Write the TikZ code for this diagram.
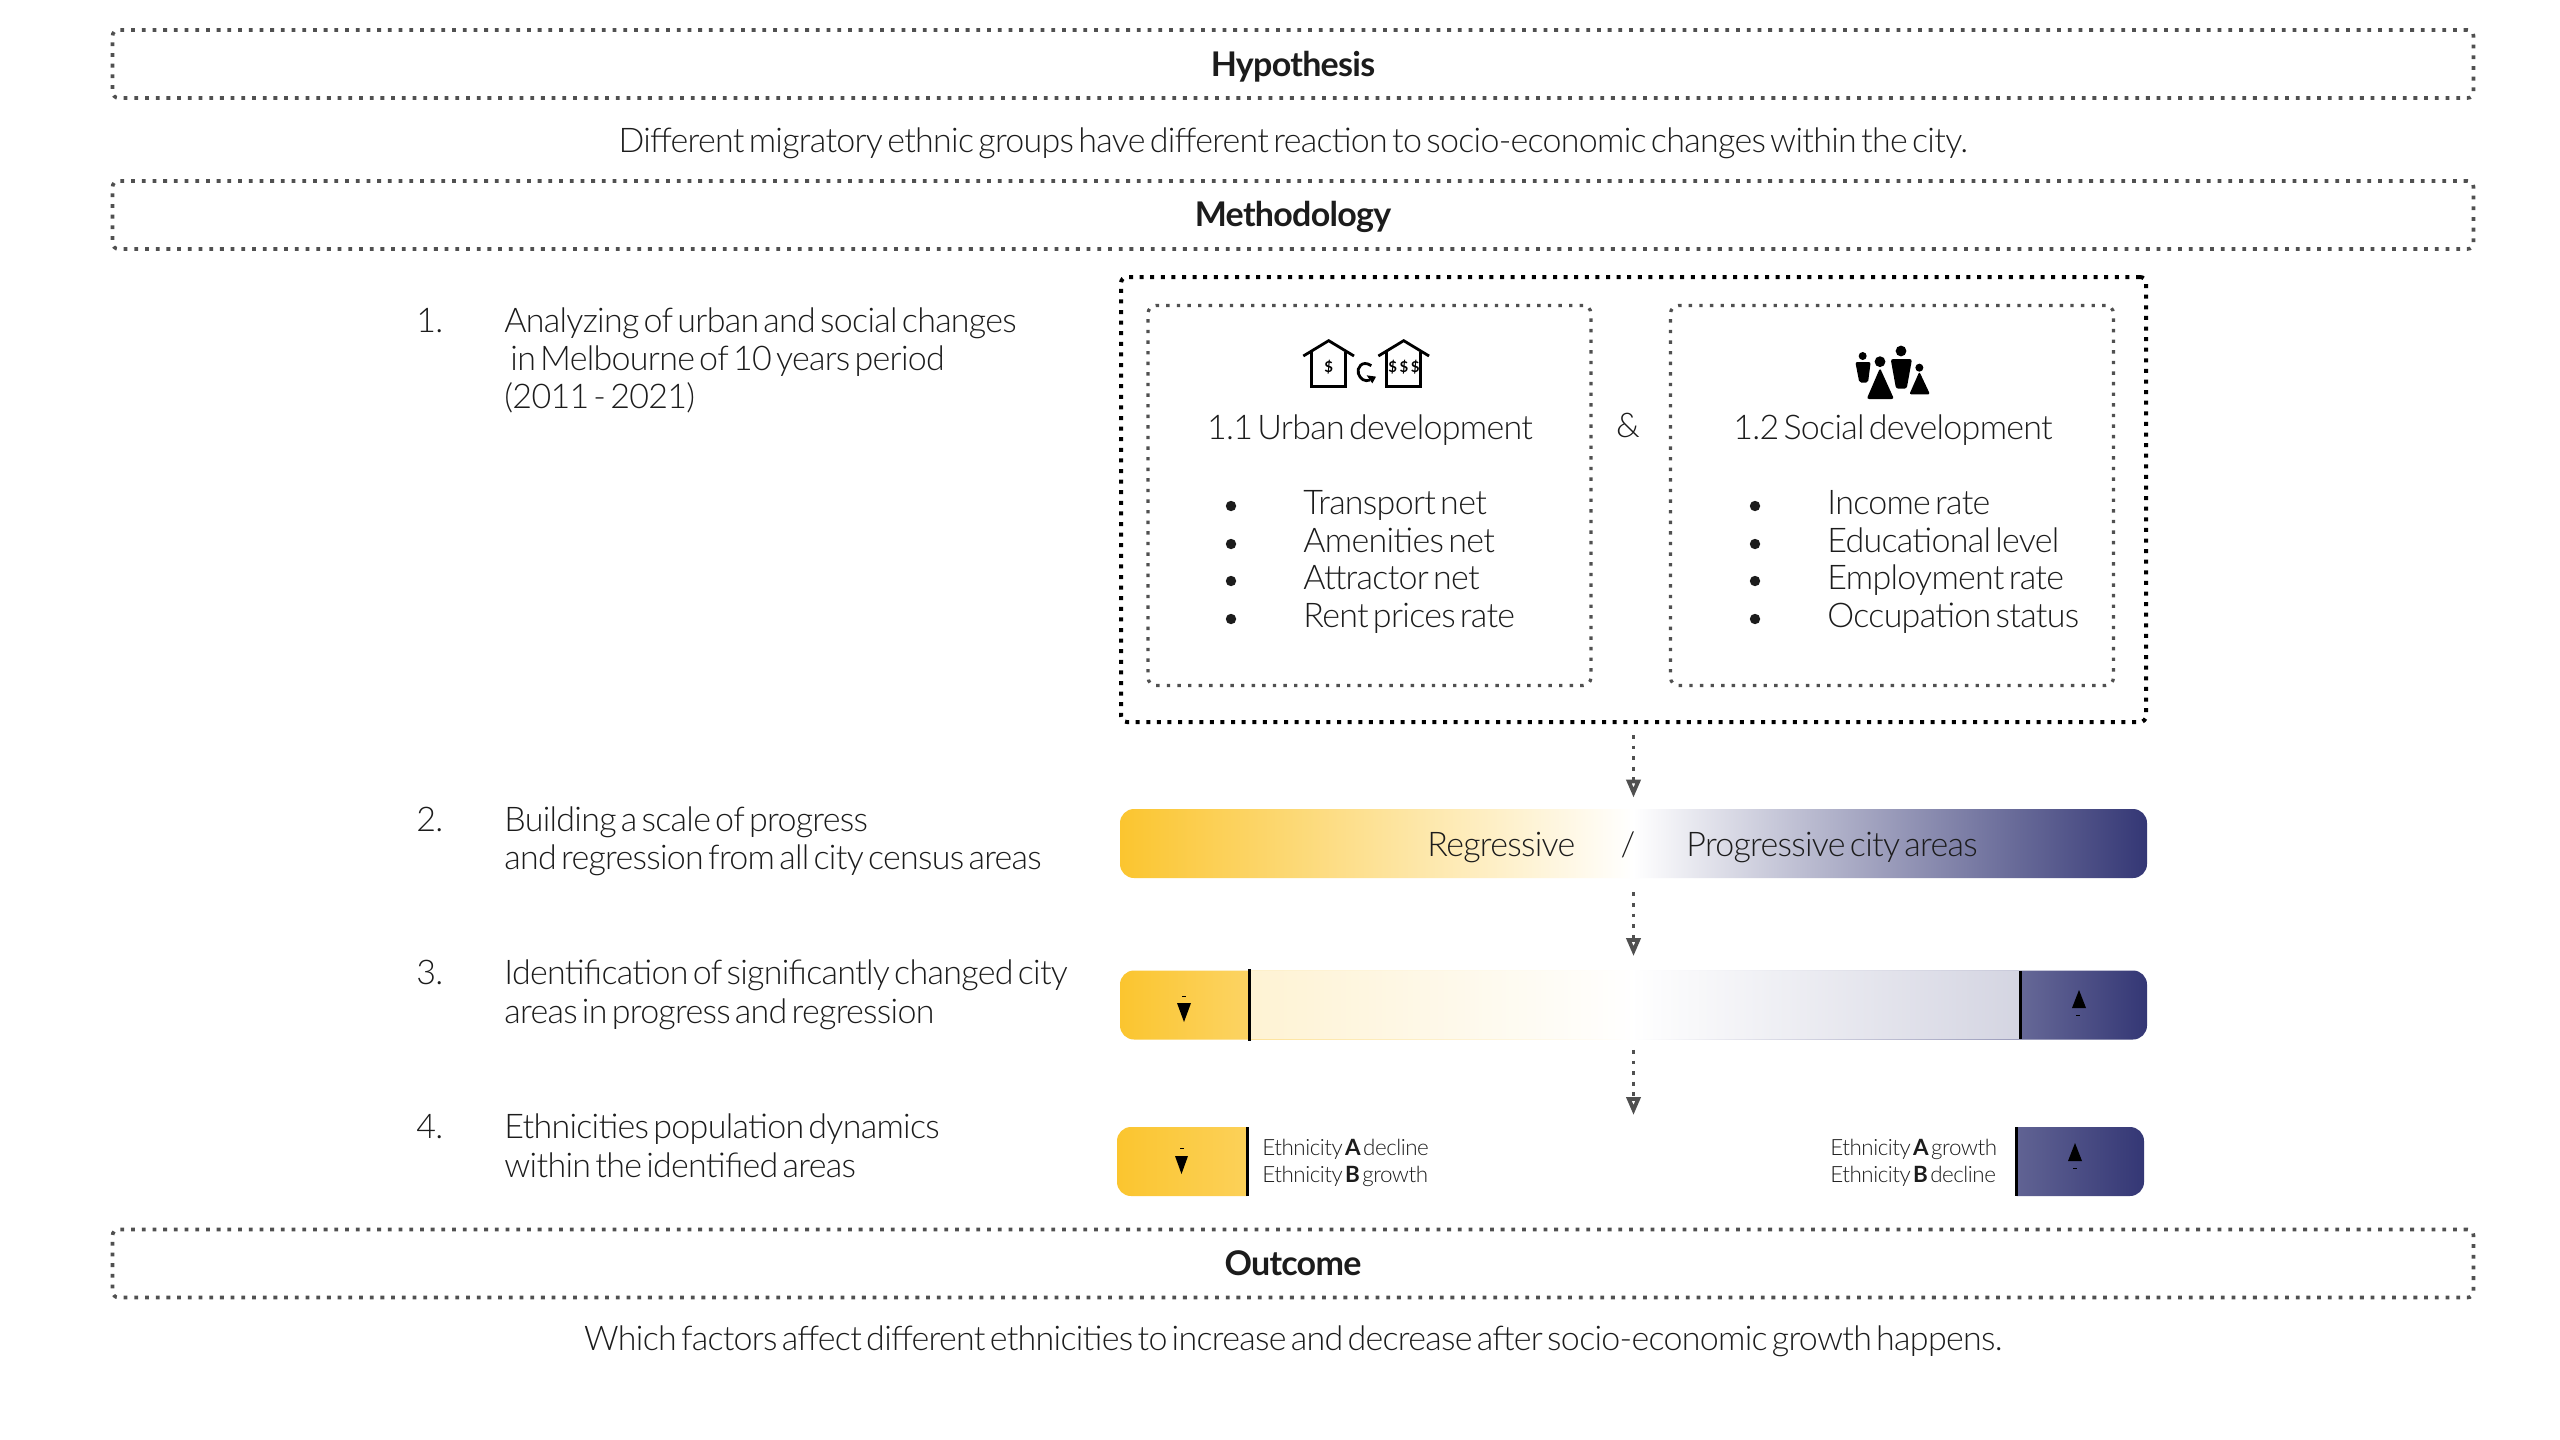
\documentclass[tikz,border=0pt]{standalone}
\usepackage{fontspec}
\setmainfont{Lato}[UprightFont=* Light,BoldFont=* Bold,LetterSpace=-2.1,WordSpace=0.5]
\usetikzlibrary{arrows.meta}
\definecolor{ink}{HTML}{1C1C1C}
\definecolor{dotgrey}{HTML}{505050}
\definecolor{sun}{HTML}{FBC52F}
\definecolor{navy}{HTML}{343775}
\tikzset{
  x=0.5pt,y=-0.5pt,
  headbox/.style={draw=dotgrey,line width=1.8pt,dash pattern=on 1.9pt off 3.45pt,rounded corners=3pt,inner sep=0,minimum width=1180.5pt,minimum height=34pt},
  outerbox/.style={draw=black,line width=2pt,dash pattern=on 2pt off 3.3pt,rounded corners=3pt,inner sep=0,minimum width=512.5pt,minimum height=222.5pt},
  innerbox/.style={draw=dotgrey,line width=1.6pt,dash pattern=on 1.7pt off 3.6pt,rounded corners=4pt,inner sep=0,minimum width=221.5pt,minimum height=190pt},
  gradbar/.style={inner sep=0,minimum width=513.5pt,minimum height=34.5pt,rounded corners=7pt,left color=sun,right color=navy,middle color=white},
  flow/.style={draw=dotgrey,line width=1.8pt,dash pattern=on 1.9pt off 3.4pt,-{Triangle[open,length=9pt,width=7pt,line width=1.9pt]}},
  big/.style={inner sep=0,text=ink,font=\fontsize{17}{17}\selectfont},
  bigl/.style={big,anchor=base west},
  bigc/.style={big,anchor=base},
  head/.style={inner sep=0,anchor=base,text=ink,font=\fontsize{17}{17}\selectfont\bfseries},
  small/.style={inner sep=0,anchor=base west,text=ink,font=\fontsize{11.2}{12}\selectfont},
  tinymark/.style={fill=black,inner sep=0,minimum width=1.6pt,minimum height=0.5pt},
}
\begin{document}
\begin{tikzpicture}
\useasboundingbox[fill=white] (0,0) rectangle (2560,1440);

% header boxes
\node[headbox] (hyp) at (1293,64) {};
\node[head] (hyptext) at (1293,76) {Hypothesis};
\node[bigc] (hypbody) at (1293,152) {Different migratory ethnic groups have different reaction to socio-economic changes within the city.};
\node[headbox] (meth) at (1293,215) {};
\node[head] (methtext) at (1293,226) {Methodology};
\node[headbox] (out) at (1293,1263.5) {};
\node[head] (outtext) at (1293,1275) {Outcome};
\node[bigc] (outbody) at (1293,1350) {Which factors affect different ethnicities to increase and decrease after socio-economic growth happens.};

% step labels
\node[bigl] (n1) at (416,332) {1.};
\node[bigl] (s1a) at (504,332) {Analyzing of urban and social changes};
\node[bigl] (s1b) at (510,370) {in Melbourne of 10 years period};
\node[bigl] (s1c) at (504,408) {(2011 - 2021)};
\node[bigl] (n2) at (416,831) {2.};
\node[bigl] (s2a) at (504,831) {Building a scale of progress};
\node[bigl] (s2b) at (504,869) {and regression from all city census areas};
\node[bigl] (n3) at (416,984.5) {3.};
\node[bigl] (s3a) at (504,984.5) {Identification of significantly changed city};
\node[bigl] (s3b) at (504,1023) {areas in progress and regression};
\node[bigl] (n4) at (416,1138.5) {4.};
\node[bigl] (s4a) at (504,1138.5) {Ethnicities population dynamics};
\node[bigl] (s4b) at (504,1177) {within the identified areas};

% boxes of step 1
\node[outerbox] (outer) at (1633.5,499.5) {};
\node[innerbox] (urban) at (1369.5,495.5) {};
\node[innerbox] (social) at (1892,495.5) {};
\node[bigc] (urbant) at (1370,439) {1.1 Urban development};
\node[bigc] (amp) at (1628,437) {\&};
\node[bigc] (socialt) at (1893,439) {1.2 Social development};
\foreach \yy/\ta/\tb in {514/Transport net/Income rate,552/Amenities net/Educational level,589/Attractor net/Employment rate,627/Rent prices rate/Occupation status}{
  \node[bigl] at (1303,\yy) {\ta};
  \node[bigl] at (1827,\yy) {\tb};
  \fill[ink] (1231,\yy-8) circle[radius=2.6pt];
  \fill[ink] (1755,\yy-8) circle[radius=2.6pt];
}

% house icons
\begin{scope}[shift={(1280,320)},x=0.1667pt,y=-0.1667pt]
  \draw[black,line width=1.4pt,line join=miter] (70,108) -- (146,62) -- (222,108);
  \draw[black,line width=1.4pt] (95,95) -- (95,200) -- (197,200) -- (197,95);
  \node[inner sep=0,font=\fontsize{7.5}{8}\selectfont\bfseries] (d1) at (146,140) {\$};
  \draw[black,line width=1.4pt,line join=miter] (295,108) -- (371,62) -- (447,108);
  \draw[black,line width=1.4pt] (320,95) -- (320,200) -- (422,200) -- (422,95);
  \node[inner sep=0,font=\fontsize{7.5}{8}\selectfont\bfseries] (d2) at (372,140) {\$\,\$\,\$};
  \draw[black,line width=1.4pt] (274,137) .. controls (245,118) and (230,145) .. (235,160) .. controls (240,178) and (255,186) .. (270,180);
  \fill[black] (260,166) -- (288,170) -- (277,190) -- cycle;
\end{scope}

% people icon
\begin{scope}[shift={(1840,330)},x=0.1667pt,y=-0.1667pt]
  \fill[black] (68,78) circle[radius=2pt];
  \fill[black,rounded corners=1pt] (46,96) -- (92,96) -- (84,158) -- (58,158) -- cycle;
  \fill[black] (120,95) circle[radius=2.7pt];
  \fill[black,rounded corners=1.2pt] (120,114) -- (162,207) -- (80,207) -- cycle;
  \fill[black] (183,63) circle[radius=2.7pt];
  \fill[black,rounded corners=1.2pt] (152,87) -- (216,87) -- (200,176) -- (168,176) -- cycle;
  \fill[black] (238,113) circle[radius=2pt];
  \fill[black,rounded corners=1pt] (238,125) -- (270,193) -- (208,193) -- cycle;
\end{scope}

% bar of step 2
\node[gradbar] (bar2) at (1633.5,843.5) {};
\node[bigl] (regr) at (1427,856) {Regressive};
\node[bigc] (slash) at (1628,856) {/};
\node[bigl] (prog) at (1686,856) {Progressive city areas};

% bar of step 3
\node[gradbar] (bar3) at (1633.5,1005) {};
\fill[white,opacity=0.72] (1249.5,971) rectangle (2020,1039);
\draw[black,line width=1.5pt] (1249.5,969) -- (1249.5,1041);
\draw[black,line width=1.5pt] (2020,971) -- (2020,1039);
\fill[black] (1177,1003) -- (1191,1003) -- (1184,1022) -- cycle;
\node[tinymark] (m3a) at (1184,996) {};
\fill[black] (2072,1008) -- (2086,1008) -- (2079,990) -- cycle;
\node[tinymark] (m3b) at (2078,1015) {};

% blocks of step 4
\shade[left color=sun,right color=sun!80!white] (1247,1127) [rounded corners=7pt] -- (1117,1127) -- (1117,1196) [sharp corners] -- (1247,1196) -- cycle;
\shade[left color=navy!78!white,right color=navy] (2016.5,1127) [rounded corners=7pt] -- (2144,1127) -- (2144,1196) [sharp corners] -- (2016.5,1196) -- cycle;
\draw[black,line width=1.5pt] (1247,1127) -- (1247,1196);
\draw[black,line width=1.5pt] (2016.5,1127) -- (2016.5,1196);
\fill[black] (1175,1156) -- (1188,1156) -- (1181.5,1174) -- cycle;
\node[tinymark] (m4a) at (1182,1148) {};
\fill[black] (2068,1161) -- (2082,1161) -- (2075,1143) -- cycle;
\node[tinymark] (m4b) at (2075,1168) {};
\node[small] (a1) at (1262,1155) {Ethnicity \textbf{A} decline};
\node[small] (a2) at (1262,1182) {Ethnicity \textbf{B} growth};
\node[small] (b1) at (1830,1155) {Ethnicity \textbf{A} growth};
\node[small] (b2) at (1830,1182) {Ethnicity \textbf{B} decline};

% connectors
\coordinate (step4top) at (1633.5,1127);
\draw[flow,shorten <=5.5pt,shorten >=5.5pt] (outer.south) -- (bar2.north);
\draw[flow,shorten <=7pt,shorten >=7pt] (bar2.south) -- (bar3.north);
\draw[flow,shorten <=5pt,shorten >=6pt] (bar3.south) -- (step4top);
\end{tikzpicture}
\end{document}
